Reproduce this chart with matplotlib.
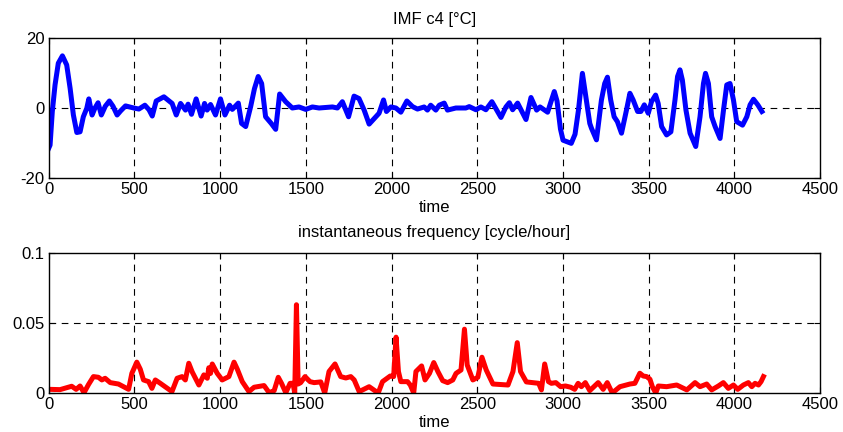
import matplotlib
matplotlib.use("Agg")
import matplotlib.pyplot as plt

plt.rcParams['font.family'] = ['Liberation Sans', 'DejaVu Sans']

# IMF c4 [degC]
imf_t = [0, 8, 21, 37, 56, 80, 105, 125, 144, 164, 183, 202, 222, 234, 253,
         270, 288, 307, 330, 354, 375, 399, 420, 448, 496, 526, 561, 585, 604,
         627, 672, 720, 744, 769, 798, 813, 833, 860, 889, 909, 924, 944, 973,
         1002, 1028, 1055, 1071, 1106, 1125, 1149, 1178, 1200, 1222, 1242,
         1265, 1298, 1324, 1347, 1382, 1421, 1460, 1499, 1538, 1577, 1655,
         1684, 1713, 1749, 1781, 1810, 1840, 1869, 1908, 1927, 1953, 1970,
         1996, 2025, 2054, 2089, 2122, 2151, 2190, 2209, 2228, 2258, 2278,
         2307, 2326, 2375, 2433, 2453, 2492, 2521, 2550, 2585, 2612, 2638,
         2667, 2687, 2706, 2735, 2784, 2813, 2846, 2866, 2910, 2949, 2965,
         2985, 3000, 3048, 3070, 3090, 3113, 3136, 3156, 3166, 3195, 3224,
         3243, 3259, 3278, 3298, 3317, 3341, 3370, 3390, 3409, 3435, 3454,
         3474, 3497, 3516, 3540, 3555, 3575, 3604, 3629, 3653, 3668, 3682,
         3696, 3717, 3741, 3774, 3799, 3819, 3831, 3848, 3867, 3887, 3916,
         3936, 3955, 3974, 3994, 4013, 4047, 4072, 4091, 4111, 4136, 4160]
imf_c = [-11.5, -10.6, -1.0, 6.6, 12.8, 14.9, 12.3, 5.6, -2.0, -7.0, -6.8,
         -2.5, -0.1, 2.6, -2.0, 0.0, 1.5, -2.0, 0.5, 2.0, 0.5, -2.0, -0.8, 0.6,
         0.0, -0.3, 0.8, -0.5, -2.3, 2.0, 3.2, 1.3, -2.0, 1.3, -0.6, 1.1, -1.8,
         2.6, -2.3, 1.3, -0.6, 1.0, -2.0, 2.6, -2.0, 0.8, -0.4, 1.4, -4.4,
         -5.3, 0.4, 5.5, 9.0, 7.0, -2.5, -4.4, -6.1, 4.0, 1.8, 0.0, 0.3, -0.4,
         0.3, 0.0, 0.3, 0.0, 1.8, -2.5, 3.4, 2.7, -0.6, -4.6, -2.5, -1.5, 2.3,
         -1.0, 0.3, 0.0, -1.2, 2.0, 0.4, -0.3, 0.3, -0.6, 0.8, -0.6, 0.8, 1.4,
         -0.6, 0.0, 0.0, 0.4, -0.5, 0.3, -0.5, 1.8, -0.5, -2.7, 0.3, 1.5, -0.5,
         1.4, -3.3, 3.0, -0.6, 0.3, -1.2, 4.7, 2.0, -6.0, -9.2, -10.1, -7.5,
         -0.6, 9.9, 2.3, -4.4, -5.8, -9.1, 2.3, 7.0, 8.8, 2.3, -2.5, -3.9,
         -7.2, -0.6, 4.2, 2.3, -1.0, -1.0, 0.9, -1.5, 1.8, 3.7, 1.3, -5.3,
         -7.7, -6.8, 2.3, 9.0, 10.9, 8.0, -0.6, -7.2, -11.0, -2.5, 7.0, 9.9,
         7.0, -2.5, -5.3, -8.7, -0.6, 6.6, 7.0, 2.3, -3.9, -4.9, -2.5, 0.9,
         2.5, 0.9, -1.0]

# instantaneous frequency [cycle/hour]
freq_t = [7, 66, 134, 160, 183, 206, 232, 261, 290, 310, 329, 359, 407, 466,
          485, 514, 534, 553, 583, 602, 622, 651, 719, 749, 778, 797, 817, 837,
          876, 905, 925, 934, 944, 954, 983, 1012, 1051, 1081, 1100, 1129,
          1168, 1198, 1256, 1286, 1315, 1339, 1358, 1383, 1408, 1425, 1435,
          1445, 1455, 1470, 1495, 1524, 1548, 1587, 1610, 1635, 1670, 1703,
          1733, 1762, 1782, 1811, 1869, 1922, 1947, 1992, 2012, 2026, 2040,
          2054, 2093, 2109, 2129, 2142, 2175, 2195, 2221, 2246, 2270, 2298,
          2327, 2357, 2376, 2405, 2425, 2441, 2474, 2503, 2527, 2552, 2591,
          2679, 2708, 2733, 2752, 2786, 2858, 2874, 2893, 2915, 2932, 2958,
          2986, 3014, 3045, 3068, 3088, 3107, 3130, 3156, 3205, 3234, 3258,
          3287, 3332, 3390, 3419, 3448, 3468, 3488, 3507, 3521, 3541, 3556,
          3604, 3663, 3722, 3770, 3799, 3838, 3867, 3906, 3935, 3964, 3994,
          4019, 4052, 4081, 4101, 4120, 4140, 4155, 4169]
freq_v = [0.0026, 0.0024, 0.0048, 0.0026, 0.0050, 0.0002, 0.0060, 0.0117,
          0.0112, 0.0093, 0.0105, 0.0074, 0.0064, 0.0026, 0.0140, 0.0220,
          0.0170, 0.0093, 0.0081, 0.0033, 0.0093, 0.0069, 0.0010, 0.0105,
          0.0117, 0.0093, 0.0212, 0.0150, 0.0057, 0.0129, 0.0105, 0.0180,
          0.0140, 0.0207, 0.0140, 0.0093, 0.0117, 0.0220, 0.0170, 0.0081,
          0.0010, 0.0041, 0.0053, 0.0002, 0.0017, 0.0112, 0.0069, 0.0002,
          0.0069, 0.0069, 0.0000, 0.0629, 0.0064, 0.0074, 0.0117, 0.0081,
          0.0074, 0.0079, 0.0000, 0.0153, 0.0207, 0.0117, 0.0107, 0.0117,
          0.0093, 0.0010, 0.0045, 0.0000, 0.0081, 0.0121, 0.0117, 0.0398,
          0.0153, 0.0081, 0.0081, 0.0057, 0.0000, 0.0153, 0.0193, 0.0093,
          0.0140, 0.0217, 0.0153, 0.0088, 0.0074, 0.0093, 0.0140, 0.0164,
          0.0455, 0.0200, 0.0093, 0.0112, 0.0255, 0.0164, 0.0064, 0.0057,
          0.0153, 0.0359, 0.0153, 0.0079, 0.0069, 0.0022, 0.0207, 0.0081,
          0.0069, 0.0074, 0.0045, 0.0050, 0.0041, 0.0026, 0.0069, 0.0045,
          0.0074, 0.0017, 0.0074, 0.0026, 0.0074, 0.0000, 0.0045, 0.0064,
          0.0069, 0.0141, 0.0121, 0.0117, 0.0098, 0.0045, 0.0000, 0.0050,
          0.0045, 0.0057, 0.0022, 0.0074, 0.0045, 0.0064, 0.0022, 0.0050,
          0.0074, 0.0033, 0.0057, 0.0026, 0.0057, 0.0074, 0.0045, 0.0069,
          0.0057, 0.0081, 0.0117]


def matlab_style(ax, yticks, ygrid):
    ax.set_xlim(0, 4500)
    ax.set_xticks(range(0, 4501, 500))
    ax.set_yticks(yticks)
    ax.set_ylim(yticks[0], yticks[-1])
    ax.tick_params(direction='in', top=True, right=True, labelsize=12,
                   length=4, pad=3)
    for x in range(500, 4500, 500):
        ax.axvline(x, color='black', lw=0.8, ls=(0, (6, 5)), zorder=0)
    ax.axhline(ygrid, color='black', lw=0.8, ls=(0, (6, 5)), zorder=0)
    for s in ax.spines.values():
        s.set_linewidth(1.0)
    ax.set_xlabel('time', fontsize=12, labelpad=2)


fig = plt.figure(figsize=(8.43, 4.32), dpi=100)
ax1 = fig.add_axes([48.7 / 843, 1 - 178 / 432, 771.5 / 843, 140 / 432])
ax2 = fig.add_axes([48.7 / 843, 1 - 393 / 432, 771.5 / 843, 140.3 / 432])

ax1.plot(imf_t, imf_c, color='blue', lw=3.6, solid_joinstyle='round')
matlab_style(ax1, [-20, 0, 20], 0)
ax1.set_yticklabels(['-20', '0', '20'])
ax1.set_title('IMF c4 [°C]', fontsize=12, pad=10)

ax2.plot(freq_t, freq_v, color='red', lw=3.6, solid_joinstyle='round')
matlab_style(ax2, [0, 0.05, 0.1], 0.05)
ax2.set_yticklabels(['0', '0.05', '0.1'])
ax2.set_title('instantaneous frequency [cycle/hour]', fontsize=12, pad=11)

fig.savefig('out.png', dpi=100)
